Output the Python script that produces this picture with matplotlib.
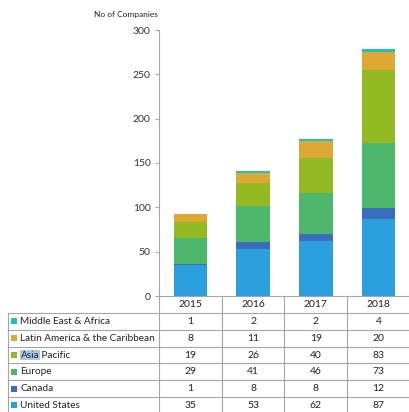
import matplotlib
matplotlib.use("Agg")
import matplotlib.pyplot as plt
import numpy as np

years = ["2015", "2016", "2017", "2018"]
regions = ["United States", "Canada", "Europe", "Asia Pacific",
           "Latin America & the Caribbean", "Middle East & Africa"]
united_states = [35, 53, 62, 87]
canada = [1, 8, 8, 12]
europe = [29, 41, 46, 73]
asia_pacific = [19, 26, 40, 83]
latin_america = [8, 11, 19, 20]
middle_east = [1, 2, 2, 4]
series = [united_states, canada, europe, asia_pacific, latin_america, middle_east]
colors = ["#2C9FDE", "#3A6DBE", "#4DB86B", "#93BA22", "#DDA834", "#22BFC0"]
y_ticks = [0, 50, 100, 150, 200, 250, 300]
y_title = "No of Companies"

plt.rcParams['font.family'] = ['Lato', 'DejaVu Sans']

W, H = 410, 412
fig = plt.figure(figsize=(W / 100, H / 100), dpi=100)

# --- chart axes ---
x0, x1 = 159, 410
ytop, ybot = 30, 296
ax = fig.add_axes([x0 / W, (H - ybot) / H, (x1 - x0) / W, (ybot - ytop) / H])
x = np.arange(len(years))
bottom = np.zeros(len(years))
for vals, c in zip(series, colors):
    ax.bar(x, vals, width=0.53, bottom=bottom, color=c, edgecolor='none')
    bottom += np.array(vals)
ax.set_xlim(-0.5, len(years) - 0.5)
ax.set_ylim(0, 300)
ax.set_yticks(y_ticks)
ax.set_xticks([])
for s in ["top", "right"]:
    ax.spines[s].set_visible(False)
for s in ["left", "bottom"]:
    ax.spines[s].set_color("#A6A6A6")
    ax.spines[s].set_linewidth(0.8)
ax.tick_params(axis='y', length=3, width=0.8, color="#A6A6A6", pad=3,
               labelsize=7.5, labelcolor="#333333")
fig.text(158 / W, 1 - 15 / H, y_title, ha='right', va='center',
         fontsize=6, color="#222222")

# --- table axes (pixel coordinates) ---
tab = fig.add_axes([0, 0, 1, 1], zorder=-1)
tab.set_xlim(0, W)
tab.set_ylim(H, 0)
tab.axis('off')
lc = "#A6A6A6"
lw = 0.8
col_edges = np.linspace(x0, x1, len(years) + 1)
row_h = 16.8
header_bot = 313
n_rows = len(regions)
row_edges = header_bot + row_h * np.arange(n_rows + 1)
left = 8

# horizontal lines
for i, yv in enumerate(row_edges):
    tab.plot([left, x1], [yv, yv], color=lc, lw=lw)
# vertical lines
tab.plot([left, left], [header_bot, row_edges[-1]], color=lc, lw=lw)
for xe in col_edges:
    tab.plot([xe, xe], [ybot, row_edges[-1]], color=lc, lw=lw)

# header
centers = (col_edges[:-1] + col_edges[1:]) / 2
for cx, yr in zip(centers, years):
    tab.text(cx, (ybot + header_bot) / 2, yr, ha='center', va='center',
             fontsize=7.5, color="#222222")

# rows (top to bottom: reversed stacking order)
order = list(range(len(regions)))[::-1]
for r, si in enumerate(order):
    cy = (row_edges[r] + row_edges[r + 1]) / 2
    tab.scatter([14], [cy], marker='s', s=22, color=colors[si], linewidths=0)
    name = regions[si]
    if name == "Asia Pacific":
        t1 = tab.text(20.5, cy, "Asia", ha='left', va='center', fontsize=7.2,
                      color="#222222",
                      bbox=dict(boxstyle='square,pad=0.05', fc="#A9C8E3", ec='none'))
        tab.annotate(" Pacific", xy=(1, 0.5), xycoords=t1, ha='left', va='center',
                     fontsize=7.2, color="#222222")
    else:
        tab.text(20.5, cy, name, ha='left', va='center', fontsize=7.2,
                 color="#222222")
    for cx, v in zip(centers, series[si]):
        tab.text(cx, cy, str(v), ha='center', va='center', fontsize=7.5,
                 color="#222222")

fig.savefig("out.png", dpi=100)
